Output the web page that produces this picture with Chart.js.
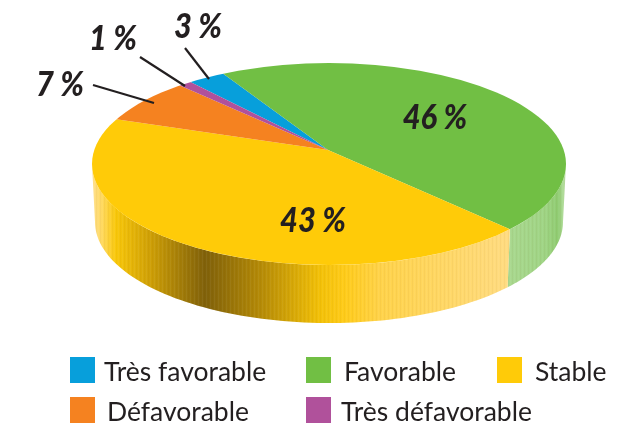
<!DOCTYPE html>
<html>

  <head>
    <meta charset="utf-8">
    <script src="https://cdn.jsdelivr.net/npm/chart.js@4/dist/chart.umd.min.js"></script>
    <style>
      body { margin: 0; background: #fff; }
      canvas { display: block; }
    </style>
  </head>

  <body>
    <canvas id="pie" width="627" height="425"></canvas>
  </body>

  <script>
    var categories = ["Très favorable", "Favorable", "Stable", "Défavorable", "Très défavorable"];
    var shares = [3, 46, 43, 7, 1];
    var sliceColors = ["#079fdb", "#71bf44", "#ffcb08", "#f58220", "#b0519b"];

    // top face of the disc, and the hub which sits above its centre
    var top3d = { cx: 329, cy: 164, rx: 237, ry: 101 };
    var hub = { x: 328, y: 150, stretch: 2.06 };
    var bottom3d = { cx: 329, cy: 222, rx: 234, ry: 101 };
    var inkColor = "#231f20";

    // side wall shading, x in pixels
    var wallShades = {
      1: [[508, "#a9d88f"], [545, "#9fd484"], [558, "#8fcc71"], [566, "#bfe2ab"]],
      2: [[92, "#ffe08c"], [102, "#ffd95f"], [116, "#f9c80a"], [150, "#cfa006"], [205, "#80610a"],
          [260, "#b48a07"], [320, "#f3c108"], [345, "#ffcc1a"], [380, "#ffd34a"], [511, "#ffdc82"]]
    };

    var percentLabels = [
      { i: 0, x: 198, y: 27 },
      { i: 1, x: 435, y: 118 },
      { i: 2, x: 313, y: 221 },
      { i: 3, x: 60, y: 85 },
      { i: 4, x: 113, y: 39 }
    ];
    var leaders = [
      [185, 48, 209, 79],
      [140, 57, 185, 86],
      [93, 85, 154, 103]
    ];
    var legendSpots = [
      { box: 70, text: 104, y: 357 },
      { box: 306, text: 344, y: 357 },
      { box: 497, text: 535, y: 357 },
      { box: 70, text: 107, y: 397 },
      { box: 306, text: 341, y: 397 }
    ];

    // ellipse parameter where a slice edge leaving the hub meets the rim
    function rimParam(angle) {
      var dx = hub.stretch * Math.cos(angle) / top3d.rx;
      var dy = Math.sin(angle) / top3d.ry;
      var ox = (hub.x - top3d.cx) / top3d.rx;
      var oy = (hub.y - top3d.cy) / top3d.ry;
      var a = dx * dx + dy * dy;
      var b = 2 * (ox * dx + oy * dy);
      var c = ox * ox + oy * oy - 1;
      var k = (-b + Math.sqrt(b * b - 4 * a * c)) / (2 * a);
      return Math.atan2(oy + k * dy, ox + k * dx);
    }

    function wallPath(ctx, t0, t1) {
      var steps = 80;
      ctx.beginPath();
      for (var s = 0; s <= steps; s++) {
        var t = t0 + (t1 - t0) * s / steps;
        ctx.lineTo(top3d.cx + top3d.rx * Math.cos(t), top3d.cy + top3d.ry * Math.sin(t));
      }
      for (var s = steps; s >= 0; s--) {
        var t = t0 + (t1 - t0) * s / steps;
        ctx.lineTo(bottom3d.cx + bottom3d.rx * Math.cos(t), bottom3d.cy + bottom3d.ry * Math.sin(t));
      }
      ctx.closePath();
    }

    function drawWalls(chart) {
      var ctx = chart.ctx;
      var arcs = chart.getDatasetMeta(0).data;
      for (var i = 0; i < arcs.length; i++) {
        var t0 = rimParam(arcs[i].startAngle);
        var t1 = rimParam(arcs[i].endAngle);
        if (t1 < t0) t1 += Math.PI * 2;
        t0 = Math.max(t0, 0);
        t1 = Math.min(t1, Math.PI);
        if (t1 <= t0) continue;

        var grad = ctx.createLinearGradient(92, 0, 566, 0);
        var stops = wallShades[i] || [[92, sliceColors[i]], [566, sliceColors[i]]];
        for (var s = 0; s < stops.length; s++) {
          grad.addColorStop((stops[s][0] - 92) / 474, stops[s][1]);
        }
        ctx.save();
        wallPath(ctx, t0, t1);
        ctx.fillStyle = grad;
        ctx.fill();
        ctx.clip();
        // fine vertical pinstripes along the wall
        for (var x = 92; x < 566; x += 2) {
          ctx.fillStyle = x % 4 ? "rgba(255,255,255,0.05)" : "rgba(90,60,0,0.04)";
          ctx.fillRect(x, 150, 1, 180);
        }
        ctx.restore();
      }
    }

    var disc3d = {
      id: "disc3d",
      beforeDatasetsDraw: function(chart) {
        var ctx = chart.ctx;
        drawWalls(chart);
        ctx.save();
        ctx.beginPath();
        ctx.ellipse(top3d.cx, top3d.cy, top3d.rx, top3d.ry, 0, 0, Math.PI * 2);
        ctx.clip();
        ctx.translate(hub.x, hub.y);
        ctx.scale(hub.stretch, 1);
        ctx.translate(-hub.x, -hub.y);
      },
      afterDatasetsDraw: function(chart) {
        chart.ctx.restore();
      },
      afterDraw: function(chart) {
        var ctx = chart.ctx;
        ctx.save();

        ctx.strokeStyle = inkColor;
        ctx.lineWidth = 2.2;
        for (var i = 0; i < leaders.length; i++) {
          ctx.beginPath();
          ctx.moveTo(leaders[i][0], leaders[i][1]);
          ctx.lineTo(leaders[i][2], leaders[i][3]);
          ctx.stroke();
        }

        ctx.fillStyle = inkColor;
        ctx.textAlign = "center";
        ctx.textBaseline = "middle";
        ctx.font = "italic 900 35px Lato";
        for (var i = 0; i < percentLabels.length; i++) {
          var p = percentLabels[i];
          ctx.save();
          ctx.translate(p.x, p.y);
          ctx.scale(0.88, 1);
          ctx.fillText(shares[p.i] + " %", 0, 0);
          ctx.restore();
        }

        ctx.textAlign = "left";
        ctx.font = "26.5px Lato";
        for (var i = 0; i < legendSpots.length; i++) {
          var spot = legendSpots[i];
          ctx.fillStyle = sliceColors[i];
          ctx.fillRect(spot.box, spot.y, 25, 26);
          ctx.fillStyle = inkColor;
          ctx.fillText(categories[i], spot.text, spot.y + 15);
        }
        ctx.restore();
      }
    };

    new Chart(document.getElementById("pie"), {
      type: "pie",
      plugins: [disc3d],
      data: {
        labels: categories,
        datasets: [{
          data: shares,
          backgroundColor: sliceColors,
          borderWidth: 0,
          clip: false
        }]
      },
      options: {
        responsive: false,
        animation: false,
        rotation: -44.5,
        layout: { padding: { left: 203, right: 174, top: 25, bottom: 150 } },
        plugins: {
          legend: { display: false },
          tooltip: { enabled: false }
        }
      }
    });
  </script>

</html>
